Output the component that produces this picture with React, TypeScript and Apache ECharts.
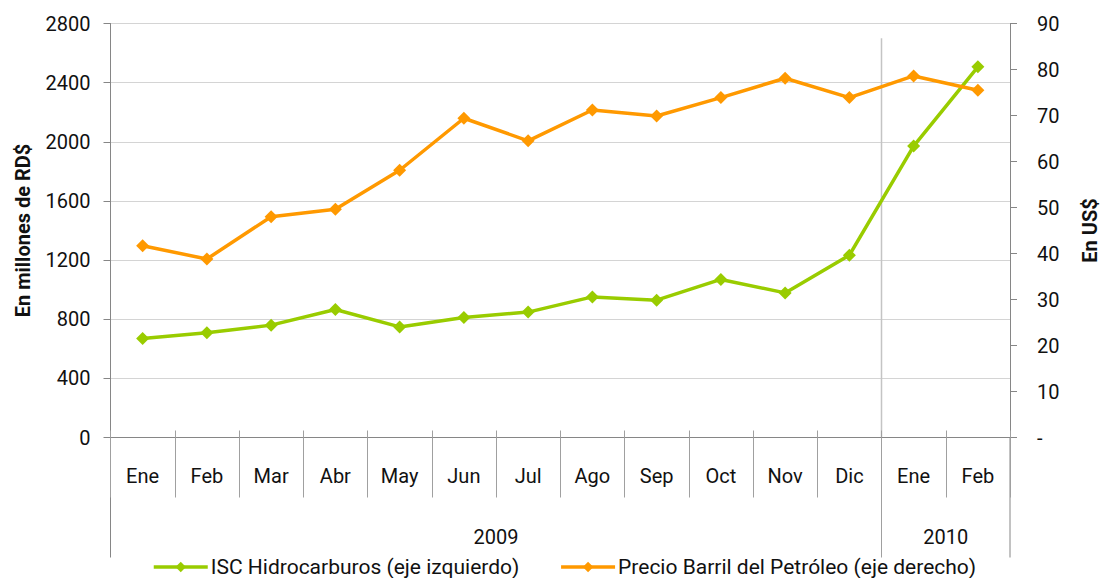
import React, { useEffect, useRef } from "react";
import * as echarts from "echarts";

const months = ["Ene", "Feb", "Mar", "Abr", "May", "Jun", "Jul", "Ago", "Sep", "Oct", "Nov", "Dic", "Ene", "Feb"];
const iscValues = [670, 708, 760, 866, 748, 812, 848, 951, 929, 1069, 978, 1233, 1971, 2507];
const oilValues = [41.7, 38.8, 48.0, 49.6, 58.1, 69.4, 64.5, 71.2, 69.9, 73.9, 78.1, 73.9, 78.6, 75.5];
const yearGroups = [
  { label: "2009", from: 0, to: 11 },
  { label: "2010", from: 12, to: 13 },
];
const iscName = "ISC Hidrocarburos (eje izquierdo)";
const oilName = "Precio Barril del Petróleo (eje derecho)";
const leftTitle = "En millones de RD$";
const rightTitle = "En US$";

const FONT = "Roboto";
const AXIS_GRAY = "#868686";
const GREEN = "#99CC00";
const ORANGE = "#FF9900";

export default function App() {
  const ref = useRef<HTMLDivElement>(null);
  useEffect(() => {
    if (!ref.current) return;
    const chart = echarts.init(ref.current, null, { renderer: "svg" });
    const option: any = {
      animation: false,
      textStyle: { fontFamily: FONT },
      grid: { left: 110.5, right: 91.5, top: 23.5, bottom: 140.5, containLabel: false },
      legend: {
        left: 147,
        top: 551,
        itemWidth: 54,
        itemHeight: 13,
        itemGap: 40,
        lineStyle: { width: 3.5 },
        textStyle: { fontFamily: FONT, fontSize: 21, lineHeight: 22, color: "#111", padding: [0, 0, 0, -2] },
        data: [iscName, oilName],
      },
      xAxis: [
        {
          type: "category",
          data: months,
          boundaryGap: true,
          axisLine: { show: true, lineStyle: { color: AXIS_GRAY, width: 1 } },
          axisTick: { show: true, interval: 0, length: 60, lineStyle: { color: "#a0a0a0" } },
          axisLabel: { interval: 0, margin: 28, fontSize: 20, color: "#111", fontFamily: FONT },
        },
        {
          type: "category",
          data: months,
          position: "bottom",
          boundaryGap: true,
          axisLine: { show: false },
          axisTick: { show: true, interval: 0, inside: true, length: 7, lineStyle: { color: "#a0a0a0" } },
          axisLabel: { show: false },
        },
      ],
      yAxis: [
        {
          type: "value",
          min: 0,
          max: 2800,
          interval: 400,
          name: leftTitle,
          nameLocation: "middle",
          nameRotate: 90,
          nameGap: 78,
          nameTextStyle: { fontSize: 20, fontWeight: "bold", color: "#111", fontFamily: FONT },
          axisLine: { show: true, lineStyle: { color: AXIS_GRAY } },
          axisTick: { show: true, length: 7, lineStyle: { color: AXIS_GRAY } },
          axisLabel: {
            margin: 20,
            fontSize: 20,
            color: "#111",
            fontFamily: FONT,
            formatter: (v: number) => String(v),
          },
          splitLine: { show: true, lineStyle: { color: "#d4d4d4", width: 1 } },
        },
        {
          type: "value",
          min: 0,
          max: 90,
          interval: 10,
          position: "right",
          name: rightTitle,
          nameLocation: "middle",
          nameRotate: 90,
          nameGap: 70,
          nameTextStyle: { fontSize: 20, fontWeight: "bold", color: "#111", fontFamily: FONT },
          axisLine: { show: true, lineStyle: { color: AXIS_GRAY } },
          axisTick: { show: true, length: 7, lineStyle: { color: AXIS_GRAY } },
          axisLabel: {
            margin: 27,
            fontSize: 20,
            color: "#111",
            fontFamily: FONT,
            formatter: (v: number) => (v === 0 ? "-" : String(v)),
          },
          splitLine: { show: false },
        },
      ],
      series: [
        {
          name: iscName,
          type: "line",
          yAxisIndex: 0,
          data: iscValues,
          symbol: "diamond",
          symbolSize: 13,
          lineStyle: { color: GREEN, width: 3.5 },
          itemStyle: { color: GREEN },
        },
        {
          name: oilName,
          type: "line",
          yAxisIndex: 1,
          data: oilValues,
          symbol: "diamond",
          symbolSize: 13,
          lineStyle: { color: ORANGE, width: 3.5 },
          itemStyle: { color: ORANGE },
        },
      ],
    };
    chart.setOption(option);

    // Decorative separators computed from the axis scales
    const c0 = chart.convertToPixel({ xAxisIndex: 0 }, 0) as number;
    const c1 = chart.convertToPixel({ xAxisIndex: 0 }, 1) as number;
    const w = c1 - c0;
    const bx = (k: number) => c0 - w / 2 + k * w;
    const yBottom = chart.convertToPixel({ yAxisIndex: 0 }, 0) as number;
    const ySepTop = chart.convertToPixel({ yAxisIndex: 0 }, 2700) as number;
    const yLow = yBottom + 120;
    const yYear = yBottom + 99;
    const graphics: any[] = [];
    const n = months.length;
    [0, n].forEach((k) => {
      graphics.push({
        type: "line",
        shape: { x1: bx(k), y1: yBottom, x2: bx(k), y2: yLow },
        style: { stroke: AXIS_GRAY, lineWidth: 1 },
        silent: true,
      });
    });
    yearGroups.forEach((g, i) => {
      if (i > 0) {
        graphics.push({
          type: "line",
          shape: { x1: bx(g.from), y1: ySepTop, x2: bx(g.from), y2: yBottom },
          style: { stroke: "#c4c4c4", lineWidth: 1.5 },
          silent: true,
        });
        graphics.push({
          type: "line",
          shape: { x1: bx(g.from), y1: yBottom, x2: bx(g.from), y2: yLow },
          style: { stroke: "#a0a0a0", lineWidth: 1 },
          silent: true,
        });
      }
      graphics.push({
        type: "text",
        x: (bx(g.from) + bx(g.to + 1)) / 2,
        y: yYear,
        style: {
          text: g.label,
          fontSize: 20,
          fontFamily: FONT,
          fill: "#111",
          align: "center",
          verticalAlign: "middle",
        },
        silent: true,
      });
    });
    chart.setOption({ graphic: graphics });

    return () => chart.dispose();
  }, []);
  return (
    <div
      ref={ref}
      style={{ position: "fixed", left: 0, top: 0, width: 1108, height: 578, background: "#fff" }}
    />
  );
}
